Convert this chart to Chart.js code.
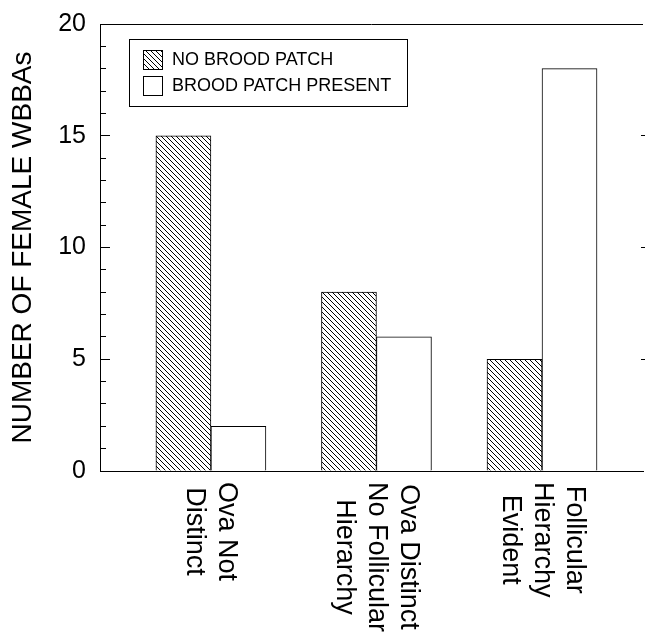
<!DOCTYPE html>
<html>
<head>
<meta charset="utf-8">
<script src="https://cdn.jsdelivr.net/npm/chart.js@4/dist/chart.umd.min.js"></script>
<style>
  html, body { margin: 0; padding: 0; background: #fff; }
  #wrap { width: 645px; height: 632px; position: relative; }
</style>
</head>
<body>
<div id="wrap"><canvas id="barChart"></canvas></div>
<script>
// data
const categories = [
  ["Ova Not", "Distinct"],
  ["Ova Distinct", "No Follicular", "Hierarchy"],
  ["Follicular", "Hierarchy", "Evident"]
];
const seriesNames = ["NO BROOD PATCH", "BROOD PATCH PRESENT"];
const noBroodPatch = [15, 8, 5];
const broodPatchPresent = [2, 6, 18];
const yMajorTicks = [0, 5, 10, 15, 20];

const FONT = "'Liberation Sans', Arial, Helvetica, sans-serif";

// diagonal hatch fill
function makeHatch() {
  const c = document.createElement("canvas");
  c.width = 5;
  c.height = 5;
  const g = c.getContext("2d");
  g.fillStyle = "#fff";
  g.fillRect(0, 0, 5, 5);
  g.fillStyle = "#000";
  for (let i = 0; i < 5; i++) {
    g.fillRect(i, i, 1, 1);
  }
  return g.createPattern(c, "repeat");
}
const hatch = makeHatch();

function align(px) {
  return Math.round(px - 0.5) + 0.5;
}

// top line, major ticks, right ticks, legend, rotated category labels
const extras = {
  id: "extras",
  afterDraw(chart) {
    const ctx = chart.ctx;
    const area = chart.chartArea;
    const xs = chart.scales.x;
    const ys = chart.scales.y;

    ctx.save();
    ctx.strokeStyle = "#000";
    ctx.lineWidth = 1;
    ctx.beginPath();
    const top = align(area.top);
    ctx.moveTo(area.left, top);
    ctx.lineTo(area.right, top);
    yMajorTicks.forEach(function (v) {
      const py = align(ys.getPixelForValue(v));
      ctx.moveTo(area.left, py);
      ctx.lineTo(area.left + 10, py);
      if (v > yMajorTicks[0] && v < yMajorTicks[yMajorTicks.length - 1]) {
        ctx.moveTo(area.right - 2, py);
        ctx.lineTo(area.right + 2, py);
      }
    });
    ctx.stroke();

    // legend box
    const lx = area.left + 29;
    const ly = area.top + 15;
    ctx.strokeRect(align(lx), align(ly), 278, 67);
    ctx.font = "18px " + FONT;
    ctx.textBaseline = "middle";
    ctx.textAlign = "left";
    ctx.fillStyle = "#000";
    chart.data.datasets.forEach(function (ds, i) {
      const rowY = ly + 21 + i * 26;
      ctx.fillStyle = ds.backgroundColor;
      ctx.fillRect(align(lx + 14), align(rowY - 10), 19, 19);
      ctx.strokeRect(align(lx + 14), align(rowY - 10), 19, 19);
      ctx.fillStyle = "#000";
      ctx.fillText(ds.label, lx + 43, rowY);
    });

    // category labels, turned clockwise
    ctx.font = "27px " + FONT;
    const lineGap = 32;
    categories.forEach(function (lines, i) {
      const cx = xs.getPixelForValue(i + 1);
      const widths = lines.map(function (t) { return ctx.measureText(t).width; });
      const maxW = Math.max.apply(null, widths);
      ctx.save();
      ctx.translate(cx, area.bottom + 11);
      ctx.rotate(Math.PI / 2);
      lines.forEach(function (t, j) {
        const off = (j - (lines.length - 1) / 2) * lineGap;
        ctx.fillText(t, (maxW - widths[j]) / 2, off);
      });
      ctx.restore();
    });
    ctx.restore();
  }
};

const barConfig = {
  type: "bar",
  data: {
    datasets: [
      {
        label: seriesNames[0],
        data: noBroodPatch.map(function (v, i) { return { x: i + 1, y: v }; }),
        backgroundColor: hatch,
        borderColor: "#000",
        borderWidth: 1,
        barThickness: 55
      },
      {
        label: seriesNames[1],
        data: broodPatchPresent.map(function (v, i) { return { x: i + 1, y: v }; }),
        backgroundColor: "#fff",
        borderColor: "#000",
        borderWidth: 1,
        barThickness: 55
      }
    ]
  },
  options: {
    responsive: true,
    maintainAspectRatio: false,
    animation: false,
    layout: { padding: { top: 24, right: 2, bottom: 0, left: 0 } },
    plugins: {
      legend: { display: false },
      tooltip: { enabled: false }
    },
    scales: {
      x: {
        type: "linear",
        min: 0.33,
        max: 3.61,
        offset: false,
        grid: { display: false },
        border: { display: true, color: "#000", width: 1 },
        ticks: { display: false },
        afterBuildTicks: function (scale) {
          scale.ticks = categories.map(function (c, i) { return { value: i + 1 }; });
        },
        afterFit: function (scale) {
          scale.height = 161;
          scale.paddingLeft = 0;
          scale.paddingRight = 0;
        }
      },
      y: {
        min: 0,
        max: 20,
        grid: {
          drawOnChartArea: false,
          drawTicks: true,
          tickLength: -6,
          tickColor: "#000",
          tickWidth: 1
        },
        border: { display: true, color: "#000", width: 1 },
        ticks: {
          stepSize: 1,
          autoSkip: false,
          padding: 20,
          color: "#000",
          font: { family: FONT, size: 25 },
          callback: function (v) { return yMajorTicks.indexOf(v) >= 0 ? String(v) : ""; }
        },
        title: {
          display: true,
          text: "NUMBER OF FEMALE WBBAs",
          color: "#000",
          font: { family: FONT, size: 28 },
          padding: { top: 6, bottom: 0 }
        },
        afterFit: function (scale) {
          scale.width = 100;
          scale.paddingTop = 0;
          scale.paddingBottom = 0;
        }
      }
    }
  },
  plugins: [extras]
};

const barChart = new Chart(document.getElementById("barChart"), barConfig);
</script>
</body>
</html>
